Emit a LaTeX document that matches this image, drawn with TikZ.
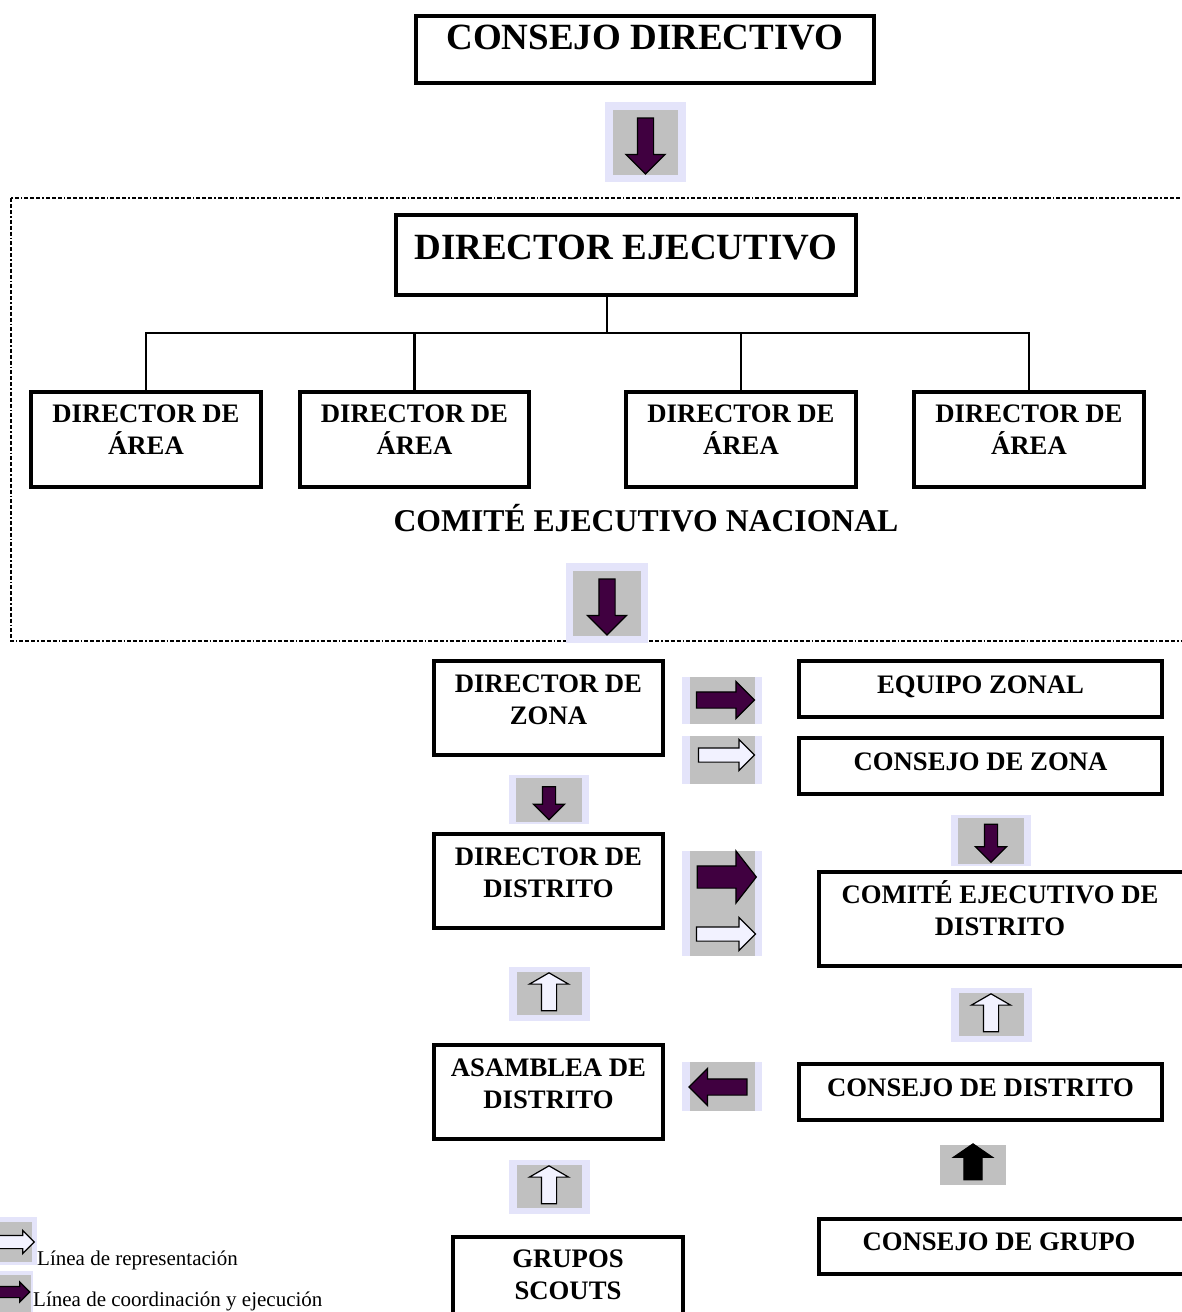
\documentclass[tikz,border=0pt]{standalone}
\usepackage{fontspec}
\setmainfont{Liberation Serif}
\usepackage{tikz}
\usetikzlibrary{positioning,shapes.arrows}

\definecolor{morado}{RGB}{64,0,64}
\definecolor{gris}{RGB}{192,192,192}
\definecolor{lavanda}{RGB}{228,228,250}
\definecolor{hueco}{RGB}{242,242,255}

\tikzset{
    caja/.style={draw, line width=4pt, inner sep=0pt},
    texto/.style={font=\fontsize{26.7pt}{32pt}\selectfont\bfseries, align=center, inner sep=0pt, text height=18pt},
    grande/.style={font=\fontsize{37pt}{44pt}\selectfont\bfseries, align=center, inner sep=0pt, text height=24.5pt},
    leyenda/.style={font=\fontsize{21pt}{25pt}\selectfont, inner sep=0pt},
    rama/.style={line width=2.5pt},
    marco/.style={line width=1.6pt, dash pattern=on 4pt off 2pt on 4pt off 2pt on 4pt off 2pt on 1.5pt off 2pt},
    plena/.style={single arrow, draw=black, line width=1.2pt, fill=morado, inner xsep=0pt, inner ysep=7.5pt,
        single arrow head extend=10.5pt, minimum width=0pt, minimum height=58pt},
    hueca/.style={plena, fill=hueco}
}

\begin{document}
\begin{tikzpicture}[x=1pt,y=-1pt]
    \useasboundingbox (0,0) rectangle (1181,1312);

    % Dashed frame round the national committee
    \draw[marco] (11,198) rectangle (1195,641);

    % Consejo directivo
    \node[caja, minimum width=458pt, minimum height=67pt] (cd) at (645,49.5) {};
    \node[grande, below=11pt of cd.north] (cdt) {CONSEJO DIRECTIVO};

    % Arrow down to director ejecutivo
    \fill[lavanda] (605,102) rectangle (686,182);
    \fill[gris] (613,110) rectangle (678,175);
    \node[plena, rotate=-90, minimum height=56pt, single arrow head extend=11.5pt] (f1) at (645.5,142) {};

    % Director ejecutivo
    \node[caja, minimum width=460pt, minimum height=80pt] (de) at (626,255) {};
    \node[grande, below=22pt of de.north] (det) {DIRECTOR EJECUTIVO};

    % Directores de area
    \node[caja, minimum width=230pt, minimum height=95pt] (a1) at (146,439.5) {};
    \node[caja, minimum width=229pt, minimum height=95pt] (a2) at (414.5,439.5) {};
    \node[caja, minimum width=230pt, minimum height=95pt] (a3) at (741,439.5) {};
    \node[caja, minimum width=230pt, minimum height=95pt] (a4) at (1029,439.5) {};
    \foreach \n in {a1,a2,a3,a4}
        \node[texto, below=46pt of \n.north] {DIRECTOR DE\\ÁREA};

    % Tree
    \coordinate (nudo) at (607,333);
    \draw[rama] (nudo) -- (nudo |- de.south);
    \foreach \n in {a1,a2,a3,a4}
        \draw[rama] (\n.north) |- (nudo);

    \node[grande, font=\fontsize{31.7pt}{38pt}\selectfont\bfseries, text height=21pt] (cen) at (646,521) {COMITÉ EJECUTIVO NACIONAL};

    % Arrow down to director de zona
    \fill[lavanda] (566,563) rectangle (648,643);
    \fill[gris] (573,571) rectangle (641,636);
    \node[plena, rotate=-90, minimum height=56pt, single arrow head extend=11.5pt] (f2) at (607,603) {};

    % Zona
    \node[caja, minimum width=229pt, minimum height=94pt] (zona) at (548.5,708) {};
    \node[texto, below=47pt of zona.north] {DIRECTOR DE\\ZONA};
    \node[caja, minimum width=363pt, minimum height=56pt] (eq) at (980.5,689) {};
    \node[texto, below=16pt of eq.north] {EQUIPO ZONAL};
    \node[caja, minimum width=363pt, minimum height=56pt] (cz) at (980.5,766) {};
    \node[texto, below=16pt of cz.north] {CONSEJO DE ZONA};

    \fill[lavanda] (682,677) rectangle (762,724);
    \fill[gris] (690,677) rectangle (755,724);
    \node[plena] (f3) at (721.5,700) {};
    \fill[lavanda] (682,736) rectangle (762,784);
    \fill[gris] (690,736) rectangle (755,784);
    \node[hueca, minimum height=56pt, inner ysep=6.5pt, single arrow head extend=8.5pt] (f4) at (723,755) {};

    % Down arrows to distrito
    \fill[lavanda] (509,775) rectangle (589,824);
    \fill[gris] (516,778) rectangle (582,822);
    \node[plena, rotate=-90, minimum height=33pt, inner ysep=6pt, single arrow head extend=9pt] (f5) at (549,800) {};
    \fill[lavanda] (951,815) rectangle (1031,866);
    \fill[gris] (958,818) rectangle (1024,864);
    \node[plena, rotate=-90, minimum height=38pt, inner ysep=6pt, single arrow head extend=9pt] (f6) at (991,840) {};

    % Distrito
    \node[caja, minimum width=229pt, minimum height=94pt] (dd) at (548.5,881) {};
    \node[texto, below=47pt of dd.north] {DIRECTOR DE\\DISTRITO};
    \node[caja, minimum width=366pt, minimum height=94pt] (ced) at (1002,919) {};
    \node[texto, below=47pt of ced.north, xshift=-2pt] {COMITÉ EJECUTIVO DE\\DISTRITO};

    \fill[lavanda] (682,851) rectangle (762,956);
    \fill[gris] (690,851) rectangle (755,956);
    \node[plena, minimum height=59pt, inner ysep=10.5pt, single arrow head extend=15pt, single arrow tip angle=104] (f7) at (722.5,877) {};
    \node[hueca, minimum height=59pt, inner ysep=6.5pt, single arrow head extend=9.5pt] (f8) at (722.5,934) {};

    % Up arrows
    \fill[lavanda] (509,967) rectangle (590,1021);
    \fill[gris] (517,972) rectangle (582,1015);
    \node[hueca, rotate=90, minimum height=38pt, inner ysep=7pt, single arrow head extend=12pt, single arrow tip angle=120] (f9) at (549,994) {};
    \fill[lavanda] (951,988) rectangle (1032,1042);
    \fill[gris] (959,993) rectangle (1024,1036);
    \node[hueca, rotate=90, minimum height=38pt, inner ysep=7pt, single arrow head extend=12pt, single arrow tip angle=120] (f10) at (991,1015) {};

    % Asamblea / consejo de distrito
    \node[caja, minimum width=229pt, minimum height=94pt] (as) at (548.5,1092) {};
    \node[texto, below=47pt of as.north] {ASAMBLEA DE\\DISTRITO};
    \node[caja, minimum width=363pt, minimum height=56pt] (cdd) at (980.5,1092) {};
    \node[texto, below=16pt of cdd.north] {CONSEJO DE DISTRITO};

    \fill[lavanda] (682,1062) rectangle (762,1111);
    \fill[gris] (690,1062) rectangle (755,1111);
    \node[plena, rotate=180] (f11) at (722,1087) {};

    % Grupos
    \fill[lavanda] (509,1160) rectangle (590,1214);
    \fill[gris] (517,1165) rectangle (582,1208);
    \node[hueca, rotate=90, minimum height=38pt, inner ysep=7pt, single arrow head extend=12pt, single arrow tip angle=120] (f12) at (549,1187) {};
    \fill[gris] (940,1145) rectangle (1006,1185);
    \node[plena, fill=black, rotate=90, minimum height=36pt, inner ysep=8.5pt, single arrow head extend=10.5pt, single arrow tip angle=111] (f13) at (973,1165) {};

    \node[caja, minimum width=230pt, minimum height=110pt] (gs) at (568,1292) {};
    \node[texto, below=46pt of gs.north] {GRUPOS\\SCOUTS};
    \node[caja, minimum width=366pt, minimum height=55pt] (cg) at (1002,1246.5) {};
    \node[texto, below=15pt of cg.north, xshift=-3pt] {CONSEJO DE GRUPO};

    % Legend
    \fill[lavanda] (-5,1217) rectangle (37,1265);
    \fill[gris] (-5,1222) rectangle (32,1262);
    \node[hueca, minimum height=56pt, inner ysep=6pt, single arrow head extend=5pt] (l1) at (3,1242) {};
    \node[leyenda, anchor=base west] at (37,1265) {Línea de representación};
    \fill[lavanda] (-5,1271) rectangle (33,1320);
    \fill[gris] (-5,1275) rectangle (31,1320);
    \node[plena, minimum height=56pt, inner ysep=5pt, single arrow head extend=4.5pt] (l2) at (-1,1292) {};
    \node[leyenda, anchor=base west] at (33,1306) {Línea de coordinación y ejecución};
\end{tikzpicture}
\end{document}
